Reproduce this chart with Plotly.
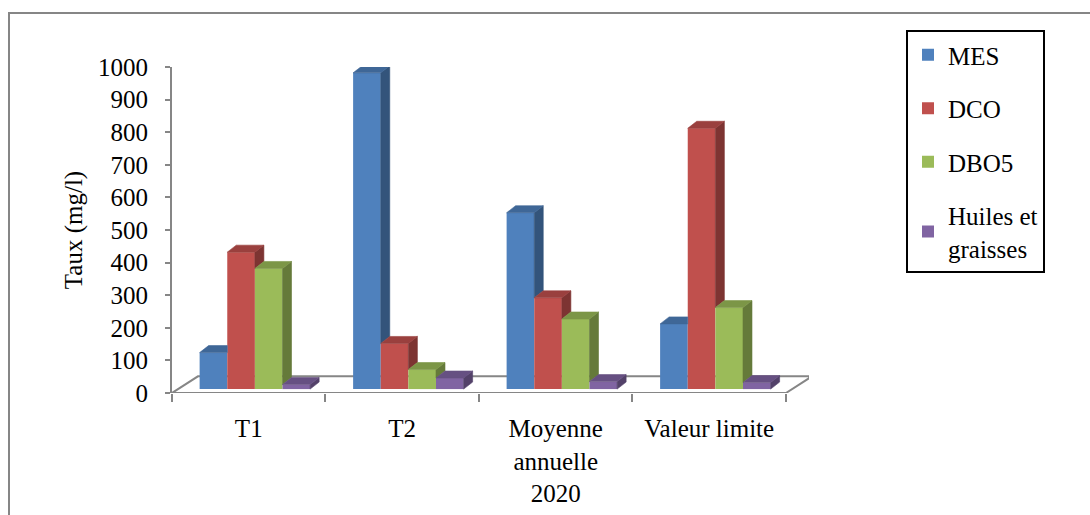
import plotly.graph_objects as go

# ---- data ----
categories = ["T1", "T2", "Moyenne<br>annuelle<br>2020", "Valeur limite"]
series_names = ["MES", "DCO", "DBO5", "Huiles et<br>graisses"]
mes = [112, 970, 541, 200]
dco = [420, 140, 280, 800]
dbo5 = [370, 60, 215, 250]
huiles = [14, 34, 23, 20]
y_ticks = [0, 100, 200, 300, 400, 500, 600, 700, 800, 900, 1000]

series_values = [mes, dco, dbo5, huiles]
front_colors = ["#4F81BD", "#C0504D", "#9BBB59", "#8064A2"]
side_colors = ["#33547B", "#7D3432", "#657A3A", "#534169"]
top_colors = ["#3F6797", "#9A403E", "#7C9647", "#665082"]

# ---- 3D geometry (style) ----
W = 0.18        # bar width in category units
SHIFT = 0.04    # perspective shift of bar fronts
BASE = 12       # front faces sit slightly above the floor front edge
DX = 0.0586     # depth offset x (category units)
DY = 21.5       # depth offset y (value units)
FLOOR_DX = 0.169
FLOOR_DY = 51
AX = "#868686"

xs = list(range(len(categories)))
fig = go.Figure()

# front faces
for k, (name, vals) in enumerate(zip(series_names, series_values)):
    fig.add_trace(go.Bar(
        x=xs, y=vals, base=BASE, name=name,
        offset=-0.36 + SHIFT + k * W, width=W,
        marker=dict(color=front_colors[k], line=dict(width=0)),
        legendgroup=f"g{k}", hoverinfo="skip",
    ))

# side and top faces
for k, vals in enumerate(series_values):
    sx, sy, tx, ty = [], [], [], []
    for c, v in enumerate(vals):
        xl = c - 0.36 + SHIFT + k * W
        xr = xl + W
        vn = series_values[k + 1][c] if k < len(series_values) - 1 else 0
        if v > vn:
            sx += [xr, xr + DX, xr + DX, xr, xr, None]
            sy += [BASE + vn, BASE + vn + DY, BASE + v + DY, BASE + v, BASE + vn, None]
            tx += [xl, xl + DX, xr + DX, xr, xl, None]
        else:
            tx += [xl, xl + DX, xr, xr, xl, None]
        ty += [BASE + v, BASE + v + DY, BASE + v + DY, BASE + v, BASE + v, None]
    if sx:
        fig.add_trace(go.Scatter(x=sx, y=sy, fill="toself", mode="lines",
                                 fillcolor=side_colors[k],
                                 line=dict(color=side_colors[k], width=0.6),
                                 showlegend=False, hoverinfo="skip"))
    fig.add_trace(go.Scatter(x=tx, y=ty, fill="toself", mode="lines",
                             fillcolor=top_colors[k],
                             line=dict(color=top_colors[k], width=0.6),
                             showlegend=False, hoverinfo="skip"))

x0, x1 = -0.5, len(categories) - 0.5
# floor
fig.add_shape(type="path", xref="x", yref="y", layer="below",
              path=f"M{x0},0 L{x1},0 L{x1 + FLOOR_DX},{FLOOR_DY} L{x0 + FLOOR_DX},{FLOOR_DY} Z",
              line=dict(color=AX, width=2), fillcolor="rgba(0,0,0,0)")
# outer chart border
fig.add_shape(type="rect", xref="paper", yref="paper",
              x0=(9 - 172) / 637, x1=(1100 - 172) / 637,
              y0=(393 - 530) / 326, y1=(393 - 13) / 326,
              line=dict(color=AX, width=2), fillcolor="rgba(0,0,0,0)", layer="below")

font = "Liberation Serif"
FS = 25
fig.update_layout(
    width=1090, height=515,
    margin=dict(l=172, r=281, t=67, b=122, autoexpand=False),
    paper_bgcolor="white", plot_bgcolor="white",
    font=dict(family=font, size=FS, color="black"),
    barmode="overlay",
    showlegend=True,
    legend=dict(x=(906 - 172) / 637, y=(393 - 30) / 326, xanchor="left", yanchor="top",
                bordercolor="black", borderwidth=2, bgcolor="white",
                font=dict(family=font, size=FS, color="black"),
                tracegroupgap=18, traceorder="grouped"),
    xaxis=dict(range=[x0, x1 + 0.15], tickmode="array", tickvals=xs, ticktext=categories,
               ticks="", showline=False, showgrid=False, zeroline=False, automargin=False,
               ticklabelstandoff=18,
               tickfont=dict(family=font, size=FS, color="black"),
               minor=dict(tickmode="array", tickvals=[x0 + i for i in range(len(categories) + 1)],
                          ticks="outside", ticklen=8, tickwidth=2, tickcolor=AX, showgrid=False)),
    yaxis=dict(range=[0, 1000], tickmode="array", tickvals=y_ticks,
               ticks="outside", ticklen=5, tickwidth=2, tickcolor=AX,
               showline=True, linecolor=AX, linewidth=2, showgrid=False, zeroline=False,
               automargin=False, ticklabelstandoff=12,
               tickfont=dict(family=font, size=FS, color="black"),
               title=dict(text="Taux (mg/l)", standoff=8,
                          font=dict(family=font, size=FS, color="black"))),
)

fig.write_html("out.html")
